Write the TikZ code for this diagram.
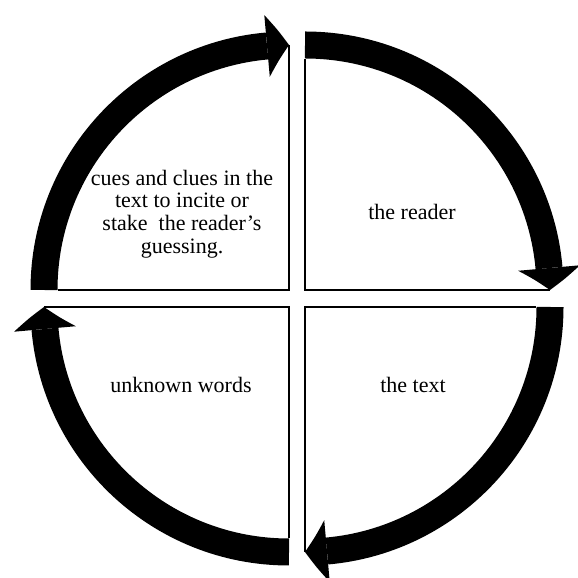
\documentclass[tikz,border=0pt]{standalone}
\usepackage{fontspec}
\setmainfont{Liberation Serif}
\usetikzlibrary{arrows.meta, bending}

\begin{document}
\begin{tikzpicture}[
  x=0.5pt, y=0.5pt,
  font=\fontsize{11}{11.3}\selectfont,
  cyclearrow/.style = {line width=13.5pt, -{Triangle[length=11pt, width=31pt, line width=0pt, bend]}},
  quarter/.style = {line width=1.3pt, line join=miter},
  quartertext/.style = {align=center, inner sep=0pt}
  ]
  \useasboundingbox (0,0) rectangle (578,578);
  % corners of the four quarters
  \coordinate (tl) at (289,288);
  \coordinate (tr) at (305,288);
  \coordinate (br) at (305,271);
  \coordinate (bl) at (289,271);
  % thin edges
  \draw[quarter] (tl) ++(-231,0) -- (tl) -- ++(0,245);
  \draw[quarter] (tr) ++(0,231) -- (tr) -- ++(245,0);
  \draw[quarter] (br) ++(231,0) -- (br) -- ++(0,-245);
  \draw[quarter] (bl) ++(0,-231) -- (bl) -- ++(-245,0);
  % the cycle
  \draw[cyclearrow] (tl) ++(-245,0) arc[start angle=180, end angle=90, radius=245];
  \draw[cyclearrow] (tr) ++(0,245) arc[start angle=90, end angle=0, radius=245];
  \draw[cyclearrow] (br) ++(245,0) arc[start angle=0, end angle=-90, radius=245];
  \draw[cyclearrow] (bl) ++(0,-245) arc[start angle=-90, end angle=-180, radius=245];
  % texts
  \node[quartertext] (cues) at (182,364) {cues and clues in the\\text to incite or\\stake \ the reader’s\\guessing.};
  \node[quartertext] (reader) at (412,366) {the reader};
  \node[quartertext] (unknown) at (181,193) {unknown words};
  \node[quartertext] (text) at (413,193) {the text};
\end{tikzpicture}
\end{document}
